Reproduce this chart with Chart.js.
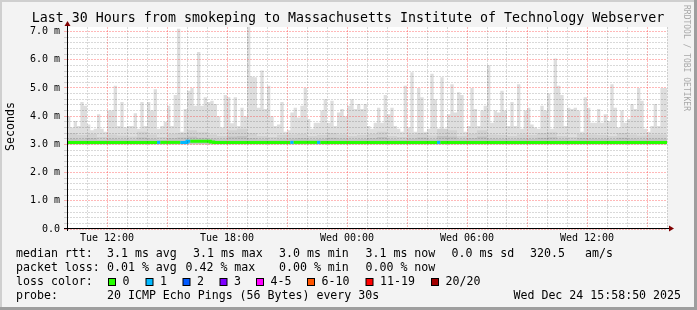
<!DOCTYPE html>
<html>
<head>
<meta charset="utf-8">
<script src="https://cdn.jsdelivr.net/npm/chart.js@4.4.1/dist/chart.umd.min.js"></script>
<style>
  body { margin: 0; background: #f3f3f3; }
  #wrap { width: 697px; height: 310px; }
</style>
</head>
<body>
<div id="wrap"><canvas id="smokeChart" width="697" height="310"></canvas></div>
<script>
// 10 minute steps, 30 hours starting Tue 10:00
const maxRtt = [
  4.67, 4.0, 3.6, 3.83, 3.65, 4.5, 4.37, 3.7, 3.5, 3.55, 4.07, 3.55, 3.45, 4.2, 4.2,
  5.08, 3.65, 4.5, 3.6, 3.65, 3.65, 4.1, 3.55, 4.5, 3.65, 4.5, 4.2, 4.95, 3.55, 3.65,
  3.8, 4.37, 3.65, 4.75, 7.1, 3.45, 4.25, 4.9, 5.0, 4.37, 6.27, 4.37, 4.67, 4.5, 4.55,
  4.43, 4.0, 3.6, 4.75, 4.67, 3.75, 4.67, 3.65, 4.3, 4.0, 7.2, 5.4, 5.38, 4.3, 5.62,
  4.25, 5.08, 4.0, 3.65, 3.7, 4.5, 3.45, 3.5, 4.13, 4.3, 3.95, 4.37, 5.0, 3.9, 3.55,
  3.77, 3.77, 4.2, 4.6, 3.77, 4.55, 3.65, 4.13, 4.25, 4.0, 4.37, 4.6, 4.25, 4.43, 4.25,
  4.43, 3.65, 3.55, 3.77, 4.3, 3.77, 4.75, 4.07, 4.3, 3.65, 3.55, 3.45, 5.08, 3.6, 5.56,
  3.45, 5.0, 4.67, 3.45, 3.55, 5.5, 4.6, 3.55, 5.38, 3.55, 4.07, 5.13, 4.13, 4.85, 4.75,
  3.45, 3.65, 5.0, 4.25, 3.65, 4.2, 4.37, 5.8, 3.77, 4.2, 4.13, 4.9, 4.2, 3.65, 4.5,
  3.65, 5.13, 3.55, 4.2, 4.3, 3.7, 3.6, 3.55, 4.37, 4.2, 4.8, 3.55, 6.04, 5.08, 4.75,
  3.65, 4.3, 4.25, 4.3, 4.2, 3.45, 4.67, 4.3, 3.77, 3.77, 4.25, 3.77, 4.07, 3.83, 5.13,
  4.3, 3.6, 4.2, 3.77, 3.9, 4.43, 4.25, 5.0, 4.55, 3.55, 3.45, 3.65, 4.43, 3.65, 5.0
];
// 30 minute steps
const midRtt = [
  3.3, 3.4, 3.33, 3.37, 3.26, 3.35, 3.31, 3.28, 3.45, 3.35, 3.26, 3.37, 3.4, 3.5, 3.43,
  3.35, 3.3, 3.5, 3.55, 3.4, 3.3, 3.26, 3.33, 3.35, 3.37, 3.3, 3.33, 3.4, 3.35, 3.3,
  3.33, 3.37, 3.45, 3.3, 3.26, 3.35, 3.4, 3.31, 3.55, 3.5, 3.3, 3.37, 3.5, 3.35, 3.33,
  3.3, 3.35, 3.33, 3.4, 3.43, 3.3, 3.26, 3.37, 3.35, 3.33, 3.3, 3.4, 3.35, 3.31, 3.35
];
const innerRtt = [
  3.18, 3.2, 3.18, 3.22, 3.16, 3.2, 3.18, 3.17, 3.24, 3.2, 3.16, 3.22, 3.24, 3.28, 3.23,
  3.2, 3.18, 3.28, 3.3, 3.22, 3.18, 3.16, 3.18, 3.2, 3.22, 3.18, 3.19, 3.23, 3.2, 3.18,
  3.19, 3.22, 3.26, 3.18, 3.16, 3.2, 3.24, 3.18, 3.3, 3.28, 3.18, 3.22, 3.28, 3.2, 3.19,
  3.18, 3.2, 3.19, 3.23, 3.25, 3.18, 3.16, 3.22, 3.2, 3.19, 3.18, 3.23, 3.2, 3.18, 3.2
];
const medianRtt = [
  3.07, 3.07, 3.07, 3.07, 3.07, 3.07, 3.07, 3.07, 3.07, 3.07, 3.07, 3.07, 3.07, 3.07, 3.07, 3.07, 3.07, 3.07, 3.07, 3.07,
  3.07, 3.07, 3.07, 3.07, 3.07, 3.07, 3.07, 3.07, 3.07, 3.07, 3.07, 3.07, 3.07, 3.07, 3.07, 3.07, 3.07, 3.11, 3.11, 3.11,
  3.11, 3.11, 3.11, 3.11, 3.08, 3.07, 3.07, 3.07, 3.07, 3.07, 3.07, 3.07, 3.07, 3.07, 3.07, 3.07, 3.07, 3.07, 3.07, 3.07,
  3.07, 3.07, 3.07, 3.07, 3.07, 3.07, 3.07, 3.07, 3.07, 3.07, 3.07, 3.07, 3.07, 3.07, 3.07, 3.07, 3.07, 3.07, 3.07, 3.07,
  3.07, 3.07, 3.07, 3.07, 3.07, 3.07, 3.07, 3.07, 3.07, 3.07, 3.07, 3.07, 3.07, 3.07, 3.07, 3.07, 3.07, 3.07, 3.07, 3.07,
  3.07, 3.07, 3.07, 3.07, 3.07, 3.07, 3.07, 3.07, 3.07, 3.07, 3.07, 3.07, 3.07, 3.07, 3.07, 3.07, 3.07, 3.07, 3.07, 3.07,
  3.07, 3.07, 3.07, 3.07, 3.07, 3.07, 3.07, 3.07, 3.07, 3.07, 3.07, 3.07, 3.07, 3.07, 3.07, 3.07, 3.07, 3.07, 3.07, 3.07,
  3.07, 3.07, 3.07, 3.07, 3.07, 3.07, 3.07, 3.07, 3.07, 3.07, 3.07, 3.07, 3.07, 3.07, 3.07, 3.07, 3.07, 3.07, 3.07, 3.07,
  3.07, 3.07, 3.07, 3.07, 3.07, 3.07, 3.07, 3.07, 3.07, 3.07, 3.07, 3.07, 3.07, 3.07, 3.07, 3.07, 3.07, 3.07, 3.07, 3.07
];
const lossSteps = [27, 34, 35, 36, 67, 75, 111];
const lossCounts = [1, 1, 1, 1, 1, 1, 1];

const lossLabels = ["0", "1", "2", "3", "4-5", "6-10", "11-19", "20/20"];
const lossColors = ["#26ff00", "#00b8ff", "#0059ff", "#7e00ff", "#ff00ff", "#ff5500", "#ff0000", "#a10000"];
const rttStats = ["3.1 ms avg", "3.1 ms max", "3.0 ms min", "3.1 ms now", "0.0 ms sd", "320.5", "am/s"];
const lossStats = ["0.01 % avg", "0.42 % max", "0.00 % min", "0.00 % now"];
const dayNames = ["Tue", "Wed"];
const startHour = 10;
const totalHours = 30;

const title = "Last 30 Hours from smokeping to Massachusetts Institute of Technology Webserver";
const probeText = "20 ICMP Echo Pings (56 Bytes) every 30s";
const stampText = "Wed Dec 24 15:58:50 2025";

const MONO = "'DejaVu Sans Mono', monospace";
const MAJOR = "rgba(255,40,40,0.33)";
const MINOR = "rgba(0,0,0,0.15)";

function toPoints(values, perHour) {
  const pts = values.map((v, i) => ({ x: i / perHour, y: v }));
  pts.push({ x: values.length / perHour, y: values[values.length - 1] });
  return pts;
}

function lossIndex(count) {
  if (count <= 3) return count;
  if (count <= 5) return 4;
  if (count <= 10) return 5;
  if (count <= 19) return 6;
  return 7;
}
function lossColorAt(step) {
  const k = lossSteps.indexOf(step);
  return lossColors[k < 0 ? 0 : lossIndex(lossCounts[k])];
}

function gridColorX(ctx) {
  const h = (startHour + ctx.tick.value) % 24;
  return h % 3 === 0 ? MAJOR : MINOR;
}
function gridColorY(ctx) {
  const v = ctx.tick.value;
  return Math.abs(v - Math.round(v)) < 1e-6 ? MAJOR : MINOR;
}

const framePlugin = {
  id: "frame",
  beforeDraw(chart) {
    const ctx = chart.ctx;
    const a = chart.chartArea;
    ctx.save();
    ctx.fillStyle = "#f3f3f3";
    ctx.fillRect(0, 0, chart.width, chart.height);
    ctx.fillStyle = "#cfcfcf";
    ctx.fillRect(0, 0, chart.width, 2);
    ctx.fillRect(0, 0, 2, chart.height);
    ctx.fillStyle = "#9e9e9e";
    ctx.fillRect(chart.width - 3, 0, 3, chart.height);
    ctx.fillRect(0, chart.height - 3, chart.width, 3);
    ctx.fillStyle = "#ffffff";
    ctx.fillRect(a.left, a.top, a.right - a.left, a.bottom - a.top);
    ctx.restore();
  },
  afterDraw(chart) {
    const ctx = chart.ctx;
    const a = chart.chartArea;
    const ax = Math.round(a.left) + 0.5;
    const ay = Math.round(a.bottom) - 0.5;
    ctx.save();
    // axes
    ctx.strokeStyle = "#000";
    ctx.lineWidth = 1;
    ctx.beginPath();
    ctx.moveTo(a.left - 3, ay);
    ctx.lineTo(a.right + 2, ay);
    ctx.moveTo(ax, a.bottom + 2);
    ctx.lineTo(ax, a.top - 4);
    ctx.stroke();
    ctx.fillStyle = "#7f0000";
    ctx.beginPath();
    ctx.moveTo(ax, a.top - 6);
    ctx.lineTo(ax - 3, a.top - 1);
    ctx.lineTo(ax + 3, a.top - 1);
    ctx.closePath();
    ctx.fill();
    ctx.beginPath();
    ctx.moveTo(a.right + 7, ay);
    ctx.lineTo(a.right + 2, ay - 3);
    ctx.lineTo(a.right + 2, ay + 3);
    ctx.closePath();
    ctx.fill();

    // title
    ctx.fillStyle = "#000";
    ctx.textBaseline = "middle";
    ctx.textAlign = "center";
    ctx.font = "13.3px " + MONO;
    ctx.fillText(title, 348, 18.5);

    // y axis name
    ctx.font = "11.6px " + MONO;
    ctx.save();
    ctx.translate(11, 126.5);
    ctx.rotate(-Math.PI / 2);
    ctx.fillText("Seconds", 0, 0);
    ctx.restore();

    // watermark
    ctx.save();
    ctx.fillStyle = "#a8a8a8";
    ctx.font = "8px " + MONO;
    ctx.textAlign = "left";
    ctx.translate(686, 5);
    ctx.rotate(Math.PI / 2);
    ctx.fillText("RRDTOOL / TOBI OETIKER", 0, 0);
    ctx.restore();

    // legend
    ctx.textAlign = "left";
    ctx.font = "11.6px " + MONO;
    const rttX = [107, 193, 279, 365.5, 451.5, 530, 585];
    const lossX = [107, 185.5, 279, 365.5];
    ctx.fillText("median rtt:", 16, 254.3);
    rttStats.forEach((s, i) => ctx.fillText(s, rttX[i], 254.3));
    ctx.fillText("packet loss:", 16, 268.3);
    lossStats.forEach((s, i) => ctx.fillText(s, lossX[i], 268.3));
    ctx.fillText("loss color:", 16, 282.3);
    const boxX = [108, 145.5, 182.5, 219.5, 256, 307, 365.5, 431];
    lossLabels.forEach((s, i) => {
      ctx.fillStyle = "#000";
      ctx.fillRect(boxX[i], 278, 8, 8);
      ctx.fillStyle = lossColors[i];
      ctx.fillRect(boxX[i] + 1, 279, 6, 6);
      ctx.fillStyle = "#000";
      ctx.fillText(s, boxX[i] + 14.5, 282.3);
    });
    ctx.fillText("probe:", 16, 296);
    ctx.fillText(probeText, 107, 296);
    ctx.textAlign = "right";
    ctx.fillText(stampText, 681, 296);
    ctx.restore();
  }
};

new Chart(document.getElementById("smokeChart"), {
  type: "line",
  data: {
    datasets: [
      {
        label: "median",
        data: toPoints(medianRtt, 6),
        stepped: "after",
        borderColor: lossColors[0],
        borderWidth: 3,
        borderCapStyle: "butt",
        pointRadius: 0,
        fill: false,
        segment: {
          borderColor: (c) => lossColorAt(c.p0DataIndex)
        }
      },
      {
        label: "inner",
        data: toPoints(innerRtt, 2),
        stepped: "after",
        borderWidth: 0,
        pointRadius: 0,
        backgroundColor: "#c2c2c2",
        fill: { value: 3.0 }
      },
      {
        label: "mid",
        data: toPoints(midRtt, 2),
        stepped: "after",
        borderWidth: 0,
        pointRadius: 0,
        backgroundColor: "#d2d2d2",
        fill: { value: 3.0 }
      },
      {
        label: "max",
        data: toPoints(maxRtt, 6),
        stepped: "after",
        borderWidth: 0,
        pointRadius: 0,
        backgroundColor: "#dedede",
        fill: { value: 3.0 }
      }
    ]
  },
  options: {
    responsive: false,
    animation: false,
    devicePixelRatio: 1,
    layout: { padding: { top: 27, right: 30, bottom: 61, left: 0 } },
    plugins: {
      legend: { display: false },
      tooltip: { enabled: false },
      title: { display: false }
    },
    scales: {
      x: {
        type: "linear",
        min: 0,
        max: totalHours,
        afterFit: (s) => { s.height = 20; },
        border: { display: false, dash: [2, 1] },
        grid: { color: gridColorX, drawTicks: false, z: 1 },
        ticks: {
          stepSize: 1,
          autoSkip: false,
          maxRotation: 0,
          minRotation: 0,
          includeBounds: false,
          padding: 3,
          color: "#000",
          font: { family: MONO, size: 10 },
          callback: (v) => {
            const t = startHour + v;
            const h = t % 24;
            if (h % 6 !== 0) return "";
            return dayNames[Math.floor(t / 24)] + " " + String(h).padStart(2, "0") + ":00";
          }
        }
      },
      y: {
        min: 0,
        max: 7.16,
        afterFit: (s) => { s.width = 67; },
        border: { display: false, dash: [2, 1] },
        grid: { color: gridColorY, tickLength: 3, z: 1 },
        ticks: {
          stepSize: 0.2,
          autoSkip: false,
          includeBounds: false,
          padding: 4,
          color: "#000",
          font: { family: MONO, size: 10 },
          callback: (v) => {
            if (Math.abs(v - Math.round(v)) > 1e-6) return "";
            return v === 0 ? "0.0" : v.toFixed(1) + " m";
          }
        }
      }
    }
  },
  plugins: [framePlugin]
});
</script>
</body>
</html>
